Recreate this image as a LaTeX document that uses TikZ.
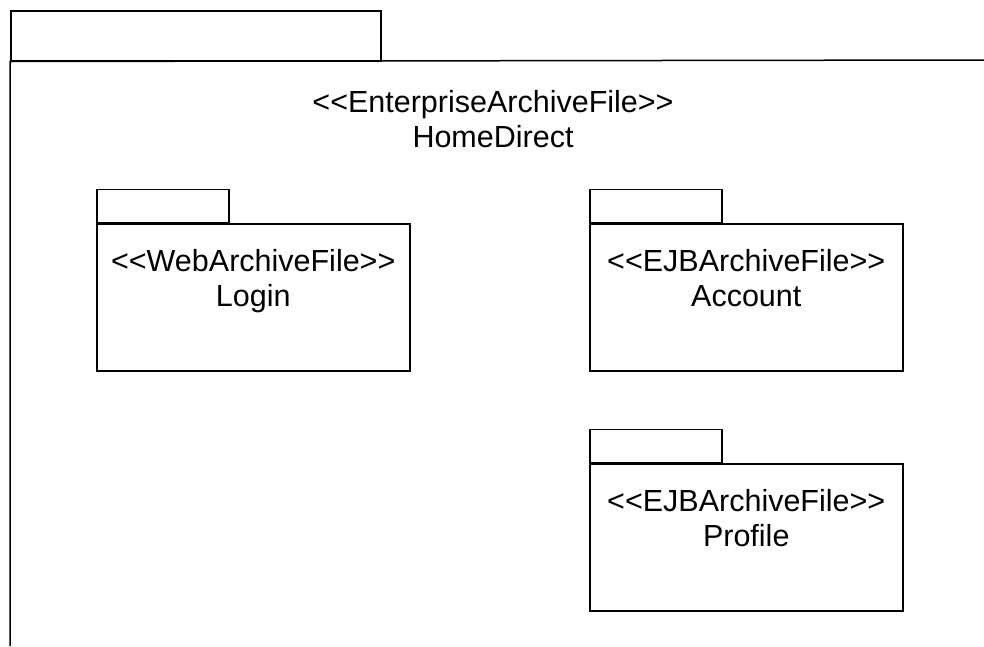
\documentclass[tikz,border=0pt]{standalone}
\usepackage{fontspec}
\setmainfont{Liberation Sans}[Ligatures=TeXOff]
\usetikzlibrary{positioning}
\begin{document}
\begin{tikzpicture}[x=1pt,y=-1pt]
   \tikzstyle{every node}=[font=\fontsize{30.5}{35}\selectfont]
   \tikzstyle{pkg}=[draw,line width=1.5pt,minimum width=313pt,minimum height=147pt,inner sep=0pt]
   \tikzstyle{pkgtab}=[draw,line width=1.5pt,minimum width=132pt,minimum height=33pt,inner sep=0pt]
   \tikzstyle{lbl}=[align=center,inner sep=0pt]
   \useasboundingbox (0,0) rectangle (984,646) ;

   % outer package, cut off right and below
   \node (eartab) [pkgtab,minimum width=370pt,minimum height=50pt,anchor=north west] at (10,10) {} ;
   \coordinate (earright) at (984,60) ;
   \coordinate (earbottom) at (10,646) ;
   \draw [line width=1.5pt] (earright) -- (eartab.south west) -- (earbottom) ;
   \node (earlbl) [lbl,anchor=north] at (493,90) {<<EnterpriseArchiveFile>>\\HomeDirect} ;

   \node (login) [pkg,anchor=north west] at (96,223) {} ;
   \node (logintab) [pkgtab,above=0pt of login.north west,anchor=south west] {} ;
   \node (loginlbl) [lbl,below=26pt of login.north] {<<WebArchiveFile>>\\Login} ;

   \node (account) [pkg,anchor=north west] at (589,223) {} ;
   \node (accounttab) [pkgtab,above=0pt of account.north west,anchor=south west] {} ;
   \node (accountlbl) [lbl,below=26pt of account.north] {<<EJBArchiveFile>>\\Account} ;

   \node (profile) [pkg,anchor=north west] at (589,463) {} ;
   \node (profiletab) [pkgtab,above=0pt of profile.north west,anchor=south west] {} ;
   \node (profilelbl) [lbl,below=26pt of profile.north] {<<EJBArchiveFile>>\\Profile} ;

\end{tikzpicture}
\end{document}
